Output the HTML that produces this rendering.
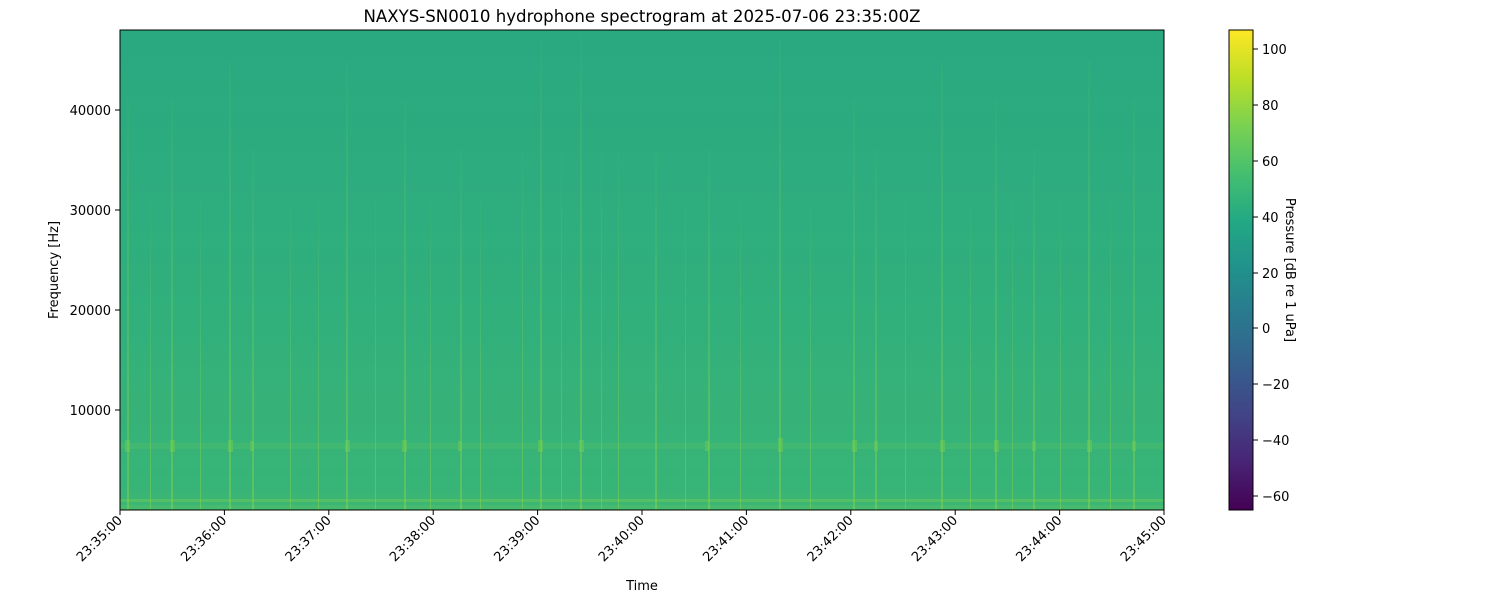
<!DOCTYPE html>
<html><head><meta charset="utf-8"><style>
body{margin:0;background:#fff;font-family:"DejaVu Sans","Liberation Sans",sans-serif;}
</style></head><body>
<svg width="1500" height="600" xmlns="http://www.w3.org/2000/svg" font-family="DejaVu Sans, Liberation Sans, sans-serif">
<defs>
<linearGradient id="bg" x1="0" y1="0" x2="0" y2="1">
<stop offset="0" stop-color="#2aa880"/>
<stop offset="0.3" stop-color="#2dac7f"/>
<stop offset="0.6" stop-color="#31b07c"/>
<stop offset="0.95" stop-color="#37b478"/>
<stop offset="1" stop-color="#3db673"/>
</linearGradient>
<linearGradient id="streak" x1="0" y1="0" x2="0" y2="1">
<stop offset="0" stop-color="#7ad151" stop-opacity="0.05"/>
<stop offset="0.5" stop-color="#7ad151" stop-opacity="0.3"/>
<stop offset="1" stop-color="#8fd744" stop-opacity="0.45"/>
</linearGradient>
<linearGradient id="vir" x1="0" y1="1" x2="0" y2="0">
<stop offset="0" stop-color="#440154"/>
<stop offset="0.1" stop-color="#482475"/>
<stop offset="0.2" stop-color="#414487"/>
<stop offset="0.3" stop-color="#355f8d"/>
<stop offset="0.4" stop-color="#2a788e"/>
<stop offset="0.5" stop-color="#21918c"/>
<stop offset="0.6" stop-color="#22a884"/>
<stop offset="0.7" stop-color="#44bf70"/>
<stop offset="0.8" stop-color="#7ad151"/>
<stop offset="0.9" stop-color="#bddf26"/>
<stop offset="1" stop-color="#fde725"/>
</linearGradient>
</defs>
<text x="642" y="22" font-size="16.6" text-anchor="middle">NAXYS-SN0010 hydrophone spectrogram at 2025-07-06 23:35:00Z</text>
<rect x="120" y="30" width="1044" height="480" fill="url(#bg)"/>
<rect x="120" y="350" width="1044" height="120" fill="#3ab476" opacity="0.25"/>
<rect x="120" y="499" width="1044" height="3" fill="#5ec561" opacity="0.7"/>
<rect x="120" y="505" width="1044" height="5" fill="#4cbc6c" opacity="0.6"/>
<g fill="url(#streak)">
<rect x="127" y="100" width="2" height="410"/>
<rect x="150" y="200" width="1" height="310"/>
<rect x="171" y="100" width="2" height="410"/>
<rect x="200" y="200" width="1" height="310"/>
<rect x="229" y="60" width="2" height="450"/>
<rect x="252" y="150" width="2" height="360"/>
<rect x="290" y="200" width="1" height="310"/>
<rect x="318" y="200" width="1" height="310"/>
<rect x="346" y="60" width="2" height="450"/>
<rect x="375" y="200" width="1" height="310"/>
<rect x="404" y="100" width="2" height="410"/>
<rect x="430" y="200" width="1" height="310"/>
<rect x="460" y="150" width="2" height="360"/>
<rect x="480" y="200" width="1" height="310"/>
<rect x="522" y="150" width="1" height="360"/>
<rect x="540" y="40" width="2" height="470"/>
<rect x="561" y="150" width="1" height="360"/>
<rect x="580" y="35" width="2" height="475"/>
<rect x="601" y="150" width="1" height="360"/>
<rect x="618" y="150" width="1" height="360"/>
<rect x="655" y="150" width="2" height="360"/>
<rect x="685" y="200" width="1" height="310"/>
<rect x="708" y="150" width="2" height="360"/>
<rect x="740" y="200" width="1" height="310"/>
<rect x="779" y="40" width="2" height="470"/>
<rect x="810" y="200" width="1" height="310"/>
<rect x="853" y="100" width="2" height="410"/>
<rect x="875" y="150" width="2" height="360"/>
<rect x="905" y="200" width="1" height="310"/>
<rect x="941" y="60" width="2" height="450"/>
<rect x="970" y="200" width="1" height="310"/>
<rect x="995" y="100" width="2" height="410"/>
<rect x="1012" y="200" width="1" height="310"/>
<rect x="1033" y="150" width="2" height="360"/>
<rect x="1060" y="200" width="1" height="310"/>
<rect x="1088" y="60" width="2" height="450"/>
<rect x="1110" y="200" width="1" height="310"/>
<rect x="1133" y="100" width="2" height="410"/>
</g>
<g fill="#7ad151" opacity="0.45">
<rect x="120" y="443" width="1044" height="6" opacity="0.35"/>
<rect x="125" y="440" width="5" height="12"/><rect x="170" y="440" width="5" height="12"/>
<rect x="228" y="440" width="5" height="12"/><rect x="250" y="441" width="4" height="10"/>
<rect x="345" y="440" width="5" height="12"/><rect x="402" y="440" width="5" height="12"/>
<rect x="458" y="441" width="4" height="10"/><rect x="538" y="440" width="5" height="12"/>
<rect x="579" y="440" width="5" height="12"/><rect x="705" y="441" width="4" height="10"/>
<rect x="778" y="438" width="5" height="14"/><rect x="852" y="440" width="5" height="12"/>
<rect x="874" y="441" width="4" height="10"/><rect x="940" y="440" width="5" height="12"/>
<rect x="994" y="440" width="5" height="12"/><rect x="1032" y="441" width="4" height="10"/>
<rect x="1087" y="440" width="5" height="12"/><rect x="1132" y="441" width="4" height="10"/>
</g>
<rect x="120" y="30" width="1044" height="480" fill="none" stroke="#000" stroke-width="1"/>
<g font-size="13" text-anchor="end">
<g stroke="#000"><line x1="115" y1="110" x2="120" y2="110"/><line x1="115" y1="210" x2="120" y2="210"/><line x1="115" y1="310" x2="120" y2="310"/><line x1="115" y1="410" x2="120" y2="410"/></g>
<text x="111" y="115">40000</text><text x="111" y="215">30000</text><text x="111" y="315">20000</text><text x="111" y="415">10000</text>
</g>
<text transform="translate(58,270) rotate(-90)" font-size="13" text-anchor="middle">Frequency [Hz]</text>
<g font-size="13" text-anchor="end" stroke="none">
<g stroke="#000">
<line x1="120" y1="510" x2="120" y2="515"/><line x1="224.4" y1="510" x2="224.4" y2="515"/><line x1="328.8" y1="510" x2="328.8" y2="515"/><line x1="433.2" y1="510" x2="433.2" y2="515"/><line x1="537.6" y1="510" x2="537.6" y2="515"/><line x1="642" y1="510" x2="642" y2="515"/><line x1="746.4" y1="510" x2="746.4" y2="515"/><line x1="850.8" y1="510" x2="850.8" y2="515"/><line x1="955.2" y1="510" x2="955.2" y2="515"/><line x1="1059.6" y1="510" x2="1059.6" y2="515"/><line x1="1164" y1="510" x2="1164" y2="515"/>
</g>
<text transform="translate(123,521) rotate(-45)">23:35:00</text>
<text transform="translate(227.4,521) rotate(-45)">23:36:00</text>
<text transform="translate(331.8,521) rotate(-45)">23:37:00</text>
<text transform="translate(436.2,521) rotate(-45)">23:38:00</text>
<text transform="translate(540.6,521) rotate(-45)">23:39:00</text>
<text transform="translate(645,521) rotate(-45)">23:40:00</text>
<text transform="translate(749.4,521) rotate(-45)">23:41:00</text>
<text transform="translate(853.8,521) rotate(-45)">23:42:00</text>
<text transform="translate(958.2,521) rotate(-45)">23:43:00</text>
<text transform="translate(1062.6,521) rotate(-45)">23:44:00</text>
<text transform="translate(1167,521) rotate(-45)">23:45:00</text>
</g>
<text x="642" y="590" font-size="13" text-anchor="middle">Time</text>
<rect x="1229" y="30" width="24" height="480" fill="url(#vir)" stroke="#000" stroke-width="1"/>
<g font-size="13" stroke="#000">
<line x1="1253" y1="49" x2="1258" y2="49"/><line x1="1253" y1="105" x2="1258" y2="105"/><line x1="1253" y1="161" x2="1258" y2="161"/><line x1="1253" y1="217" x2="1258" y2="217"/><line x1="1253" y1="273" x2="1258" y2="273"/><line x1="1253" y1="328" x2="1258" y2="328"/><line x1="1253" y1="384" x2="1258" y2="384"/><line x1="1253" y1="440" x2="1258" y2="440"/><line x1="1253" y1="496" x2="1258" y2="496"/>
</g>
<g font-size="13">
<text x="1262" y="54">100</text><text x="1262" y="110">80</text><text x="1262" y="166">60</text><text x="1262" y="222">40</text><text x="1262" y="278">20</text><text x="1262" y="333">0</text><text x="1262" y="389">−20</text><text x="1262" y="445">−40</text><text x="1262" y="501">−60</text>
</g>
<text transform="translate(1286,270) rotate(90)" font-size="13" text-anchor="middle">Pressure [dB re 1 uPa]</text>
</svg>
</body></html>
